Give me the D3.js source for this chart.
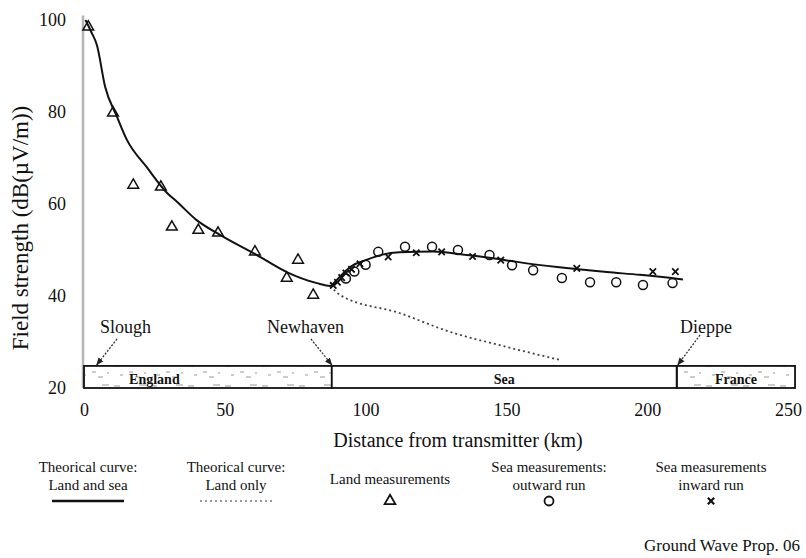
<!DOCTYPE html>
<html><head><meta charset="utf-8">
<script src="https://cdn.jsdelivr.net/npm/d3@7"></script>
<style>
body{margin:0;background:#fff}
svg{display:block}
text{font-family:"Liberation Serif","Times New Roman",serif;fill:#111}
</style>
</head><body>
<svg id="chart" width="806" height="558"></svg>
<script>
// ---- data ----
const xTicks = [0, 50, 100, 150, 200, 250];
const yTicks = [20, 40, 60, 80, 100];
const theoryLandSea = [[0.5,100],[2.5,97.5],[4.6,94.5],[7.5,85.5],[11.7,79],[15.2,74],[22.3,68],[29.5,62.4],[33,60.5],[40,56.5],[48.3,53.3],[61.4,48.9],[72,45.2],[82.7,42.8],[87.5,42.2],[89,43],[91.5,44.6],[94.5,46.3],[100.5,47.9],[106,49],[112,49.5],[124,49.7],[136,48.9],[144,48.3],[156,47.2],[168,46.3],[185.7,45.2],[197.4,44.6],[212.7,43.6]];
const theoryLandOnly = [[87.5,42.2],[91,40.2],[112,36.3],[130,32.2],[147.7,29.3],[169,26.1]];
const landMeas = [[1.5,98.5],[10.3,79.8],[17.5,64.1],[27.3,63.7],[31.2,55],[40.6,54.3],[47.6,53.7],[60.7,49.6],[72,43.9],[76,47.8],[81.4,40.2]];
const seaOutward = [[93,43.8],[96,45.3],[100,46.8],[104.5,49.6],[114,50.7],[123.6,50.7],[132.8,50],[144,48.9],[152,46.7],[159.5,45.6],[169.7,43.9],[179.7,43],[189,43],[198.5,42.4],[209,42.8]];
const seaInward = [[88.5,42.3],[90,43],[91.5,44],[93,45],[95,45.8],[98,47],[108,48.5],[118,49.4],[127,49.6],[138,48.6],[148,47.8],[175,46],[202,45.3],[210,45.3]];
const regions = [{name:"England", from:0, to:88},{name:"Sea", from:88, to:210.5},{name:"France", from:210.5, to:252.5}];
const bandTop = 24.8;
const places = [
  {name:"Slough", km:4.5, lx:100},
  {name:"Newhaven", km:88, lx:267},
  {name:"Dieppe", km:210.5, lx:680}
];
const legendItems = [
  {lines:["Theorical curve:","Land and sea"], type:"landsea", cx:88},
  {lines:["Theorical curve:","Land only"], type:"landonly", cx:236},
  {lines:["Land measurements"], type:"tri", cx:390},
  {lines:["Sea measurements:","outward run"], type:"circle", cx:549},
  {lines:["Sea measurements","inward run"], type:"cross", cx:711}
];

// ---- chart ----
const svg = d3.select("#chart");
const x = d3.scaleLinear().domain([0,250]).range([84,788]);
const y = d3.scaleLinear().domain([20,100]).range([388,20]);

// defs
const defs = svg.append("defs");
defs.append("marker").attr("id","arr").attr("viewBox","0 0 10 10").attr("refX",9).attr("refY",5)
  .attr("markerWidth",6).attr("markerHeight",6).attr("orient","auto")
  .append("path").attr("d","M0,1 L10,5 L0,9 z").attr("fill","#222");
const pat = defs.append("pattern").attr("id","speck").attr("patternUnits","userSpaceOnUse")
  .attr("width",37).attr("height",20);
pat.append("path").attr("d","M3,6 h6 M18,12 h4 M28,5 h7 M9,15 h3 M24,17 h5 M33,13 h2")
  .attr("stroke","#999").attr("stroke-width",1.2);

// y axis line (light grey)
svg.append("line").attr("x1",x(0)-1).attr("x2",x(0)-1).attr("y1",y(101)).attr("y2",y(20))
  .attr("stroke","#b5b5b5").attr("stroke-width",2.5);

// y axis labels
const yAxis = svg.append("g").attr("transform",`translate(${x(0)-1},0)`)
  .call(d3.axisLeft(y).tickValues(yTicks).tickSize(0).tickPadding(17));
yAxis.select(".domain").remove();
yAxis.selectAll("text").style("font-size","18px").style("font-family","Liberation Serif");

// x axis labels
const xAxis = svg.append("g").attr("transform",`translate(0,${y(20)})`)
  .call(d3.axisBottom(x).tickValues(xTicks).tickSize(0).tickPadding(15));
xAxis.select(".domain").remove();
xAxis.selectAll("text").style("font-size","18px").style("font-family","Liberation Serif");

// axis titles
svg.append("text").attr("transform",`translate(23,228) rotate(-90)`)
  .attr("text-anchor","middle").attr("dominant-baseline","middle").style("font-size","23px")
  .text("Field strength (dB(\u00B5V/m))");
svg.append("text").attr("x",458).attr("y",447).attr("text-anchor","middle").style("font-size","20px")
  .text("Distance from transmitter (km)");

// band
const band = svg.append("g");
regions.forEach(r => {
  band.append("rect").attr("x",x(r.from)).attr("y",y(bandTop)).attr("width",x(r.to)-x(r.from))
    .attr("height",y(20)-y(bandTop)).attr("fill", r.name==="Sea" ? "#fff" : "url(#speck)")
    .attr("stroke","#111").attr("stroke-width",1.8);
});
band.selectAll("text.region").data(regions).join("text").attr("class","region")
  .attr("x",d=>d.name==="England"?x(25):(x(d.from)+x(d.to))/2).attr("y",y(20)-4)
  .attr("text-anchor","middle").style("font-size","14px").style("font-weight","bold").text(d=>d.name);

// place annotations
places.forEach(p => {
  svg.append("text").attr("x",p.lx).attr("y",333).style("font-size","18px").text(p.name);
});
const arrows = [[117,339,x(4.5),y(bandTop)-1],[311,339,x(88),y(bandTop)-1],[700,335,x(210.5)+1,y(bandTop)-1]];
arrows.forEach(a => svg.append("line").attr("x1",a[0]).attr("y1",a[1]).attr("x2",a[2]).attr("y2",a[3])
  .attr("stroke","#333").attr("stroke-width",1.3).attr("stroke-dasharray","2,1.5").attr("marker-end","url(#arr)"));

// curves
const line = d3.line().x(d=>x(d[0])).y(d=>y(d[1])).curve(d3.curveMonotoneX);
svg.append("path").datum(theoryLandOnly).attr("d",line).attr("fill","none")
  .attr("stroke","#444").attr("stroke-width",1.8).attr("stroke-dasharray","2,3");
svg.append("path").datum(theoryLandSea).attr("d",line).attr("fill","none")
  .attr("stroke","#111").attr("stroke-width",2);

// markers
const tri = d3.symbol().type(d3.symbolTriangle).size(50);
svg.selectAll("path.land").data(landMeas).join("path").attr("class","land")
  .attr("transform",d=>`translate(${x(d[0])},${y(d[1])})`).attr("d",tri)
  .attr("fill","none").attr("stroke","#111").attr("stroke-width",1.5);
svg.selectAll("circle.out").data(seaOutward).join("circle").attr("class","out")
  .attr("cx",d=>x(d[0])).attr("cy",d=>y(d[1])).attr("r",4.5)
  .attr("fill","none").attr("stroke","#111").attr("stroke-width",1.5);
const cross = d3.symbol().type(d3.symbolX).size(28);
svg.selectAll("path.in").data(seaInward).join("path").attr("class","in")
  .attr("transform",d=>`translate(${x(d[0])},${y(d[1])})`).attr("d",cross)
  .attr("fill","none").attr("stroke","#111").attr("stroke-width",1.8);

// legend
const lg = svg.append("g");
legendItems.forEach(it => {
  const g = lg.append("g");
  if (it.lines.length === 2) {
    g.append("text").attr("x",it.cx).attr("y",472).attr("text-anchor","middle").style("font-size","15px").text(it.lines[0]);
    g.append("text").attr("x",it.cx).attr("y",490).attr("text-anchor","middle").style("font-size","15px").text(it.lines[1]);
  } else {
    g.append("text").attr("x",it.cx).attr("y",484).attr("text-anchor","middle").style("font-size","15px").text(it.lines[0]);
  }
  const sy = 501;
  if (it.type==="landsea") {
    g.append("line").attr("x1",it.cx-36).attr("x2",it.cx+36).attr("y1",sy).attr("y2",sy).attr("stroke","#111").attr("stroke-width",2.5);
  } else if (it.type==="landonly") {
    g.append("line").attr("x1",it.cx-36).attr("x2",it.cx+36).attr("y1",sy).attr("y2",sy).attr("stroke","#777").attr("stroke-width",1.5).attr("stroke-dasharray","2,3");
  } else if (it.type==="tri") {
    g.append("path").attr("transform",`translate(${it.cx},${sy})`).attr("d",tri).attr("fill","none").attr("stroke","#111").attr("stroke-width",1.8);
  } else if (it.type==="circle") {
    g.append("circle").attr("cx",it.cx).attr("cy",sy).attr("r",4.5).attr("fill","none").attr("stroke","#111").attr("stroke-width",1.8);
  } else {
    g.append("path").attr("transform",`translate(${it.cx},${sy})`).attr("d",cross).attr("fill","none").attr("stroke","#111").attr("stroke-width",2.2);
  }
});

svg.append("text").attr("x",800).attr("y",551).attr("text-anchor","end").style("font-size","17px").text("Ground Wave Prop. 06");
</script>
</body></html>
